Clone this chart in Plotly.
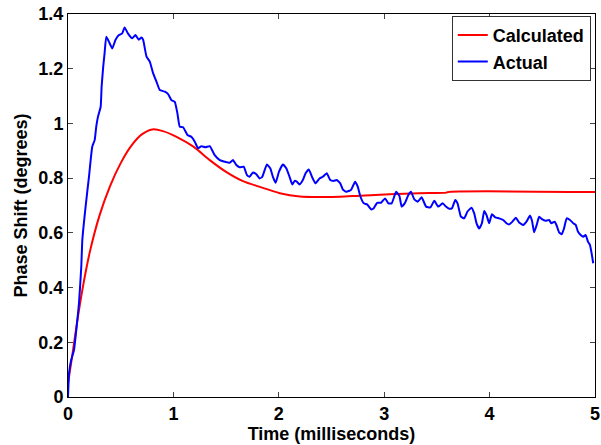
import plotly.graph_objects as go

# Calculated (red) curve
calc_t = [0, 0.04, 0.085, 0.14, 0.21, 0.30, 0.40, 0.50, 0.60, 0.70, 0.80, 0.90,
          1.03, 1.19, 1.345, 1.50, 1.66, 1.82, 2.01, 2.20, 2.40, 2.58, 2.77,
          3.05, 3.33, 3.59, 3.60, 5.0]
calc_v = [0.05, 0.15, 0.27, 0.40, 0.535, 0.665, 0.772, 0.855, 0.918, 0.96, 0.978, 0.972,
          0.951, 0.915, 0.866, 0.823, 0.789, 0.768, 0.745, 0.733, 0.731, 0.732, 0.736,
          0.741, 0.745, 0.747, 0.749, 0.749]

# Actual (blue) curve
act_t = [0, 0.01, 0.03, 0.057, 0.082, 0.104, 0.126, 0.136, 0.167, 0.199, 0.23, 0.253,
         0.268, 0.284, 0.31, 0.319, 0.334, 0.347, 0.363, 0.388, 0.42, 0.45, 0.483,
         0.514, 0.537, 0.568, 0.609, 0.64, 0.672, 0.697, 0.713, 0.745, 0.776, 0.808,
         0.84, 0.871, 0.919, 0.95, 0.982, 1.013, 1.038, 1.06, 1.092, 1.133, 1.17,
         1.203, 1.234, 1.266, 1.304, 1.345, 1.392, 1.44, 1.487, 1.534, 1.565, 1.597,
         1.629, 1.667, 1.698, 1.723, 1.755, 1.787, 1.818, 1.843, 1.887, 1.919, 1.944,
         1.97, 2.001, 2.039, 2.071, 2.102, 2.128, 2.15, 2.171, 2.197, 2.228, 2.254,
         2.285, 2.317, 2.348, 2.386, 2.418, 2.455, 2.488, 2.519, 2.55, 2.583, 2.607,
         2.639, 2.67, 2.686, 2.724, 2.749, 2.775, 2.806, 2.838, 2.876, 2.901, 2.933,
         2.97, 3.008, 3.04, 3.071, 3.113, 3.144, 3.166, 3.198, 3.229, 3.254, 3.286,
         3.317, 3.355, 3.397, 3.438, 3.475, 3.513, 3.554, 3.586, 3.617, 3.643, 3.674,
         3.696, 3.728, 3.759, 3.79, 3.828, 3.854, 3.876, 3.902, 3.927, 3.949, 3.971,
         3.996, 4.022, 4.053, 4.091, 4.129, 4.16, 4.186, 4.217, 4.249, 4.28, 4.318,
         4.35, 4.384, 4.403, 4.422, 4.447, 4.47, 4.5, 4.53, 4.564, 4.586, 4.618,
         4.637, 4.659, 4.684, 4.706, 4.731, 4.763, 4.794, 4.817, 4.839, 4.864, 4.889,
         4.911, 4.933, 4.952, 4.968, 4.983]
act_v = [0.0, 0.087, 0.135, 0.172, 0.257, 0.342, 0.476, 0.574, 0.696, 0.805, 0.915, 0.939,
         0.988, 1.024, 1.061, 1.134, 1.207, 1.256, 1.317, 1.299, 1.274, 1.305, 1.323,
         1.329, 1.351, 1.329, 1.311, 1.323, 1.306, 1.314, 1.305, 1.244, 1.226, 1.183,
         1.152, 1.122, 1.116, 1.107, 1.085, 1.079, 1.037, 0.988, 0.986, 0.958, 0.951,
         0.933, 0.909, 0.917, 0.913, 0.917, 0.884, 0.866, 0.86, 0.856, 0.866, 0.848,
         0.84, 0.842, 0.811, 0.805, 0.821, 0.814, 0.799, 0.805, 0.85, 0.836, 0.805,
         0.783, 0.823, 0.85, 0.836, 0.805, 0.777, 0.79, 0.787, 0.777, 0.793, 0.818,
         0.832, 0.803, 0.781, 0.799, 0.805, 0.818, 0.793, 0.79, 0.793, 0.781, 0.759,
         0.75, 0.754, 0.757, 0.787, 0.769, 0.732, 0.708, 0.704, 0.686, 0.69, 0.71,
         0.71, 0.726, 0.708, 0.708, 0.75, 0.735, 0.696, 0.71, 0.738, 0.75, 0.722,
         0.714, 0.73, 0.696, 0.693, 0.717, 0.696, 0.708, 0.696, 0.688, 0.69, 0.72,
         0.708, 0.659, 0.653, 0.678, 0.692, 0.671, 0.635, 0.616, 0.635, 0.68, 0.665,
         0.635, 0.668, 0.657, 0.653, 0.647, 0.635, 0.631, 0.641, 0.655, 0.638, 0.629,
         0.641, 0.663, 0.643, 0.602, 0.629, 0.659, 0.649, 0.644, 0.647, 0.635, 0.641,
         0.626, 0.602, 0.595, 0.616, 0.653, 0.647, 0.635, 0.629, 0.604, 0.592, 0.586,
         0.592, 0.568, 0.556, 0.525, 0.489]

x_ticks = [0, 1, 2, 3, 4, 5]
y_ticks = [0, 0.2, 0.4, 0.6, 0.8, 1, 1.2, 1.4]

FONT = "Liberation Sans, Arial, sans-serif"

fig = go.Figure()
fig.add_trace(go.Scatter(x=calc_t, y=calc_v, mode="lines", name="Calculated",
                         line=dict(color="#FF0000", width=2, shape="spline", smoothing=0.8)))
fig.add_trace(go.Scatter(x=act_t, y=act_v, mode="lines", name="Actual",
                         line=dict(color="#0000FF", width=2, shape="spline", smoothing=0.4)))

axis_common = dict(showline=True, linecolor="black", linewidth=1, mirror="ticks",
                   ticks="inside", ticklen=5, tickcolor="#444", showgrid=False,
                   zeroline=False, automargin=False,
                   tickfont=dict(family=FONT, size=18, color="black", weight="bold"))

fig.update_xaxes(range=[0, 5], tickvals=x_ticks, ticktext=[str(v) for v in x_ticks],
                 title=dict(text="Time (milliseconds)", standoff=4,
                            font=dict(family=FONT, size=18, color="black", weight="bold")),
                 **axis_common)
fig.update_yaxes(range=[0, 1.4], tickvals=y_ticks, ticktext=[f"{v:g}" for v in y_ticks],
                 title=dict(text="Phase Shift (degrees)", standoff=6,
                            font=dict(family=FONT, size=18, color="black", weight="bold")),
                 **axis_common)

fig.update_layout(
    width=601, height=445,
    margin=dict(l=68, r=6, t=14, b=48),
    paper_bgcolor="white", plot_bgcolor="white",
    showlegend=True,
    legend=dict(x=0.992, y=0.995, xanchor="right", yanchor="top",
                bgcolor="white", bordercolor="#333", borderwidth=1,
                font=dict(family=FONT, size=18, color="black", weight="bold"),
                tracegroupgap=0, itemwidth=30),
)

fig.write_html("out.html")
